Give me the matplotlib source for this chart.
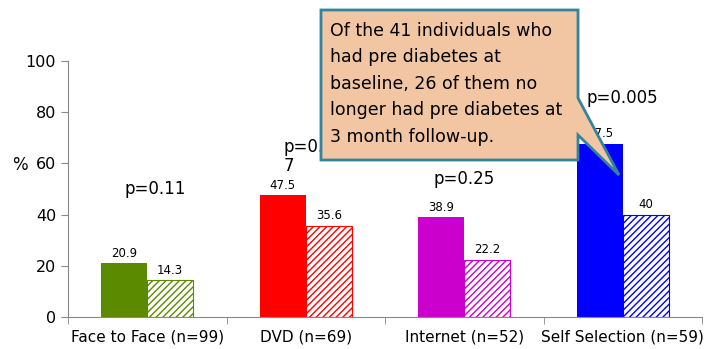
import numpy as np
import matplotlib.pyplot as plt
from matplotlib.patches import Polygon

plt.rcParams['font.family'] = ['DejaVu Sans']
plt.rcParams['hatch.linewidth'] = 1.0

categories = ['Face to Face (n=99)', 'DVD (n=69)', 'Internet (n=52)', 'Self Selection (n=59)']
baseline = [20.9, 47.5, 38.9, 67.5]
followup = [14.3, 35.6, 22.2, 40]
colors = ['#5B8A00', '#FF0000', '#CC00CC', '#0000FF']
p_labels = ['p=0.11', 'p=0.0\n7', 'p=0.25', 'p=0.005']
p_pos = [(0.05, 46.5), (-0.14, 55.5), (0.0, 50.5), (0.0, 82)]

note = ('Of the 41 individuals who\nhad pre diabetes at\nbaseline, 26 of them no\n'
        'longer had pre diabetes at\n3 month follow-up.')

W, H = 706, 349
fig = plt.figure(figsize=(W / 100, H / 100), dpi=100)
ax = fig.add_axes([68 / W, 1 - 317 / H, 634 / W, 256 / H])

x = np.arange(len(categories))
w = 0.29
for i in range(len(categories)):
    ax.bar(x[i] - w / 2, baseline[i], w, color=colors[i], zorder=2)
    ax.bar(x[i] + w / 2, followup[i], w, facecolor='white', edgecolor=colors[i],
           hatch='/////', linewidth=0.8, zorder=2)
    ax.text(x[i] - w / 2, baseline[i] + 1.5, f'{baseline[i]:g}', ha='center', va='bottom', fontsize=8.5)
    ax.text(x[i] + w / 2, followup[i] + 1.5, f'{followup[i]:g}', ha='center', va='bottom', fontsize=8.5)
    dx, py = p_pos[i]
    if '\n' in p_labels[i]:
        ax.text(x[i] + dx, py, p_labels[i], ha='left', va='bottom', fontsize=12, linespacing=1.1)
    else:
        ax.text(x[i] + dx, py, p_labels[i], ha='center', va='bottom', fontsize=12)

ax.set_xlim(-0.5, len(categories) - 0.5)
ax.set_ylim(0, 100)
ax.set_yticks(range(0, 101, 20))
ax.set_xticks(x)
ax.set_xticklabels(categories, fontsize=11)
ax.set_xticks(np.arange(-0.5, len(categories), 1), minor=True)
ax.tick_params(axis='x', which='major', length=0, pad=9)
ax.tick_params(axis='x', which='minor', length=5, color='#888888')
ax.tick_params(axis='y', labelsize=11.5, length=5, color='#888888')
for s in ['top', 'right']:
    ax.spines[s].set_visible(False)
for s in ['left', 'bottom']:
    ax.spines[s].set_color('#888888')
ax.set_ylabel('%', rotation=0, fontsize=12)
ax.yaxis.set_label_coords(-0.076, 0.56)

# speech-bubble note, pointer aimed at the self selection bar
pts = [(321, 10), (578, 10), (578, 98), (619, 175), (578, 135), (578, 160), (321, 160)]
bubble = Polygon([(px / W, 1 - py / H) for px, py in pts], closed=True,
                 transform=fig.transFigure, facecolor='#F2C6A2', edgecolor='#31849B',
                 linewidth=2, zorder=5)
fig.patches.append(bubble)
fig.text(330 / W, 1 - 22 / H, note, ha='left', va='top', fontsize=12.5,
         linespacing=1.6, zorder=6)

fig.savefig('out.png', dpi=100)
